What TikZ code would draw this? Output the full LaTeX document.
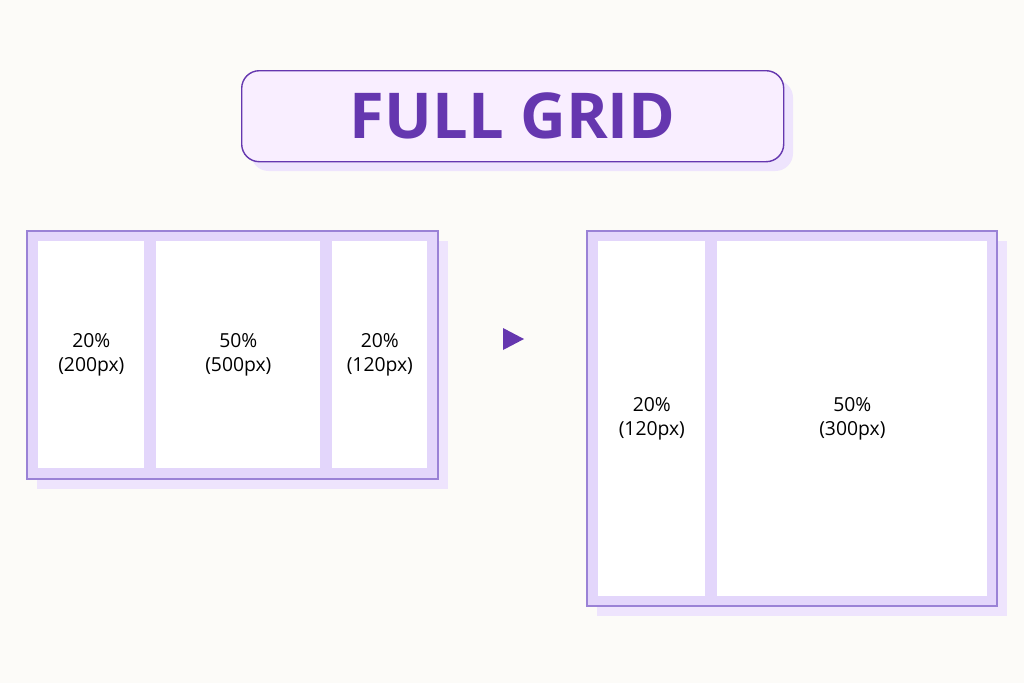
\documentclass[tikz,border=0pt]{standalone}
\usepackage{fontspec}
\setmainfont{Open Sans}
\definecolor{paper}{HTML}{FCFBF8}
\definecolor{frame}{HTML}{E3D6FB}
\definecolor{edge}{HTML}{9A82D6}
\definecolor{ink}{HTML}{6537AF}
\definecolor{pinkbox}{HTML}{F9EEFF}
\definecolor{dropfill}{HTML}{EEE4FD}
\tikzset{
    cell/.style={fill=white,anchor=north west,inner sep=0pt,align=center,font=\fontsize{11}{14}\selectfont},
    outer/.style={fill=frame,draw=edge,line width=0.6pt},
}
\begin{document}
\begin{tikzpicture}[x=0.02cm,y=-0.02cm]
    % background
    \fill[paper] (0,0) rectangle (1024,683);
    \useasboundingbox (0,0) rectangle (1024,683);

    % title
    \fill[dropfill,rounded corners=10] (251,80) rectangle (793,171);
    \node[draw=ink,fill=pinkbox,line width=0.8pt,rounded corners=10,minimum width=542*0.02cm,
          minimum height=91*0.02cm,anchor=north west,text=ink,font=\fontsize{36}{40}\bfseries\selectfont] (title) at (241,70) {FULL GRID};

    % left grid
    \fill[dropfill] (37,241) rectangle (448,489);
    \draw[outer] (27,231) rectangle (438,479);
    \foreach \name/\x/\w/\txt in {a/38/106/{20\%\\(200px)}, b/156/164/{50\%\\(500px)}, c/332/95/{20\%\\(120px)}}
        \node[cell,minimum width=\w*0.02cm,minimum height=227*0.02cm] (\name) at (\x,241) {\txt};

    % arrow
    \fill[ink] (503,328) -- (524,339) -- (503,350) -- cycle;

    % right grid
    \fill[dropfill] (597,241) rectangle (1007,616);
    \draw[outer] (587,231) rectangle (997,606);
    \foreach \name/\x/\w/\txt in {d/598/107/{20\%\\(120px)}, e/717/270/{50\%\\(300px)}}
        \node[cell,minimum width=\w*0.02cm,minimum height=355*0.02cm] (\name) at (\x,241) {\txt};
\end{tikzpicture}
\end{document}
